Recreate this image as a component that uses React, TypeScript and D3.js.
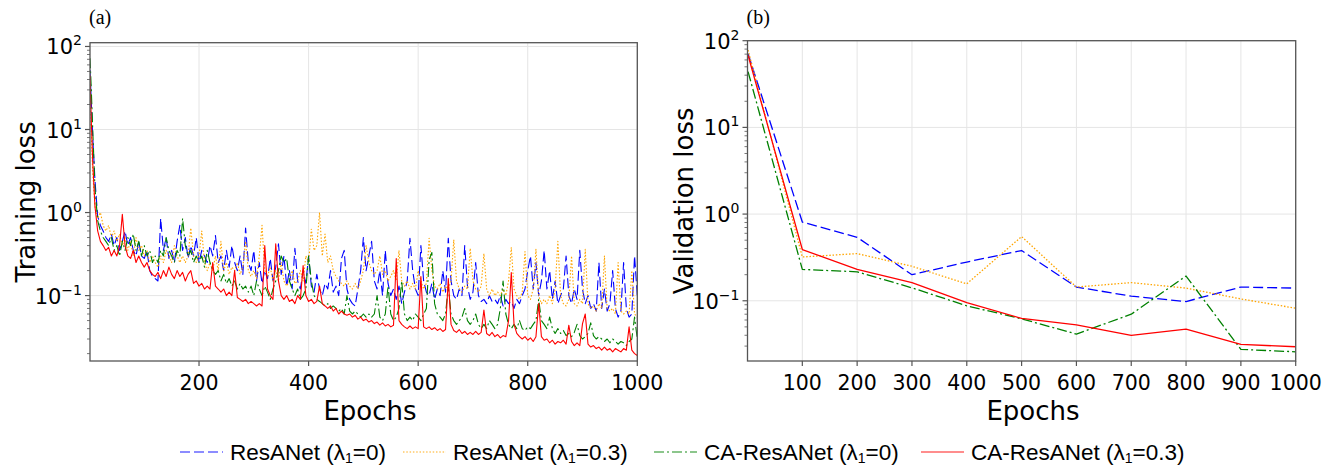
import React from "react";
import * as d3 from "d3";

// training curves: a few early epochs, then one reading every 5 epochs
const trainEpochs = [1, 3, 6, 10, 15, ...d3.range(20, 1001, 5)];

const resTrain0 = [
  52, 25, 8, 2.5, 0.9,
  0.7, 0.6, 0.5, 0.45, 0.55, 0.4, 0.5, 0.35, 0.45, 0.6, 0.4, 0.5, 0.35, 0.3, 0.45, 0.3, 0.28, 0.35, 0.2, 0.17,
  0.16, 0.15, 0.85, 0.35, 0.5, 0.28, 0.35, 0.25, 0.45, 0.7, 0.35, 0.5, 0.28, 0.4, 0.3, 0.5, 0.25, 0.35, 0.3, 0.25,
  0.4, 0.3, 0.53, 0.25, 0.3, 0.2, 0.35, 0.22, 0.4, 0.25, 0.2, 0.3, 0.18, 0.65, 0.25, 0.2, 0.35, 0.15, 0.25, 0.14,
  0.2, 0.16, 0.28, 0.15, 0.22, 0.42, 0.18, 0.3, 0.13, 0.2, 0.12, 0.37, 0.15, 0.12, 0.2, 0.14, 0.3, 0.13, 0.11, 0.18,
  0.12, 0.1, 0.14, 0.12, 0.2, 0.11, 0.13, 0.1, 0.28, 0.35, 0.12, 0.09, 0.08, 0.075, 0.12, 0.2, 0.5, 0.2, 0.3, 0.45,
  0.15, 0.12, 0.2, 0.1, 0.35, 0.14, 0.1, 0.12, 0.09, 0.13, 0.08, 0.11, 0.15, 0.49, 0.2, 0.12, 0.1, 0.4, 0.15, 0.11,
  0.1, 0.14, 0.09, 0.12, 0.1, 0.2, 0.11, 0.49, 0.15, 0.1, 0.09, 0.12, 0.1, 0.4, 0.13, 0.09, 0.11, 0.25, 0.1, 0.085,
  0.09, 0.08, 0.1, 0.085, 0.09, 0.08, 0.1, 0.075, 0.09, 0.08, 0.085, 0.07, 0.09, 0.08, 0.1, 0.12, 0.2, 0.3, 0.12, 0.25,
  0.1, 0.15, 0.35, 0.12, 0.2, 0.09, 0.15, 0.08, 0.1, 0.12, 0.3, 0.1, 0.08, 0.12, 0.09, 0.35, 0.12, 0.08, 0.1, 0.07,
  0.08, 0.065, 0.25, 0.07, 0.12, 0.065, 0.08, 0.2, 0.07, 0.055, 0.065, 0.25, 0.07, 0.055, 0.06, 0.3, 0.1,
];

const resTrain03 = [
  35, 10, 3, 1.2, 0.85,
  1.0, 0.7, 0.6, 0.7, 0.5, 0.6, 0.45, 0.55, 0.4, 0.5, 0.35, 0.45, 0.3, 0.5, 0.35, 0.4, 0.3, 0.35, 0.25, 0.3,
  0.25, 0.22, 0.3, 0.25, 0.35, 0.3, 0.25, 0.4, 0.3, 0.25, 0.3, 0.25, 0.3, 0.65, 0.3, 0.25, 0.3, 0.6, 0.25, 0.2,
  0.25, 0.2, 0.3, 0.2, 0.45, 0.2, 0.25, 0.18, 0.22, 0.2, 0.25, 0.18, 0.22, 0.45, 0.2, 0.17, 0.2, 0.16, 0.3, 0.7,
  0.2, 0.17, 0.22, 0.15, 0.2, 0.15, 0.25, 0.15, 0.13, 0.15, 0.2, 0.14, 0.15, 0.2, 0.15, 0.3, 0.25, 0.63, 0.35, 0.4,
  1.0, 0.3, 0.55, 0.25, 0.3, 0.2, 0.17, 0.15, 0.14, 0.13, 0.15, 0.13, 0.12, 0.14, 0.12, 0.15, 0.2, 0.4, 0.25, 0.2,
  0.18, 0.2, 0.3, 0.18, 0.2, 0.15, 0.17, 0.2, 0.15, 0.35, 0.15, 0.13, 0.15, 0.12, 0.14, 0.12, 0.2, 0.15, 0.12, 0.14,
  0.49, 0.2, 0.13, 0.12, 0.14, 0.11, 0.13, 0.12, 0.15, 0.47, 0.15, 0.12, 0.11, 0.13, 0.12, 0.37, 0.15, 0.12, 0.11, 0.13,
  0.32, 0.12, 0.1, 0.12, 0.1, 0.11, 0.1, 0.12, 0.1, 0.15, 0.38, 0.12, 0.1, 0.09, 0.11, 0.34, 0.1, 0.09, 0.12, 0.36,
  0.1, 0.08, 0.09, 0.08, 0.1, 0.08, 0.12, 0.45, 0.1, 0.08, 0.075, 0.09, 0.3, 0.08, 0.075, 0.09, 0.08, 0.36, 0.08, 0.07,
  0.075, 0.065, 0.08, 0.07, 0.3, 0.07, 0.065, 0.07, 0.06, 0.25, 0.065, 0.06, 0.065, 0.06, 0.2, 0.06, 0.055,
];

const caTrain0 = [
  72, 35, 10, 2, 0.8,
  0.6, 0.5, 0.45, 0.4, 0.5, 0.35, 0.4, 0.3, 0.45, 0.35, 0.5, 0.4, 0.55, 0.35, 0.45, 0.3, 0.4, 0.3, 0.35, 0.25,
  0.3, 0.25, 0.35, 0.3, 0.5, 0.35, 0.3, 0.25, 0.35, 0.3, 0.85, 0.4, 0.3, 0.35, 0.25, 0.3, 0.25, 0.3, 0.22, 0.35,
  0.25, 0.2, 0.18, 0.2, 0.15, 0.18, 0.14, 0.16, 0.13, 0.15, 0.12, 0.14, 0.12, 0.13, 0.11, 0.13, 0.1, 0.15, 0.12, 0.1,
  0.13, 0.11, 0.09, 0.12, 0.15, 0.2, 0.3, 0.25, 0.28, 0.15, 0.12, 0.1, 0.12, 0.09, 0.1, 0.12, 0.3, 0.15, 0.1, 0.09,
  0.085, 0.08, 0.075, 0.08, 0.07, 0.075, 0.07, 0.065, 0.07, 0.06, 0.1, 0.065, 0.06, 0.065, 0.06, 0.055, 0.06, 0.055, 0.06, 0.055,
  0.06, 0.1, 0.055, 0.05, 0.06, 0.13, 0.06, 0.05, 0.055, 0.07, 0.15, 0.06, 0.05, 0.055, 0.05, 0.06, 0.055, 0.05, 0.06, 0.07,
  0.27, 0.33, 0.08, 0.06, 0.055, 0.05, 0.06, 0.13, 0.06, 0.05, 0.045, 0.05, 0.055, 0.07, 0.05, 0.045, 0.05, 0.06, 0.045, 0.04,
  0.045, 0.04, 0.05, 0.045, 0.04, 0.045, 0.07, 0.15, 0.06, 0.045, 0.04, 0.045, 0.04, 0.05, 0.04, 0.038, 0.042, 0.04, 0.045, 0.05,
  0.09, 0.05, 0.045, 0.04, 0.055, 0.04, 0.035, 0.04, 0.035, 0.038, 0.033, 0.035, 0.032, 0.036, 0.045, 0.033, 0.03, 0.032, 0.035, 0.047,
  0.033, 0.03, 0.032, 0.03, 0.028, 0.03, 0.027, 0.03, 0.028, 0.026, 0.028, 0.027, 0.025, 0.028, 0.03, 0.055, 0.03,
];

const caTrain03 = [
  45, 15, 4, 1.2, 0.6,
  0.45, 0.4, 0.35, 0.38, 0.3, 0.35, 0.3, 0.4, 0.95, 0.4, 0.3, 0.28, 0.35, 0.25, 0.3, 0.25, 0.22, 0.25, 0.2, 0.18,
  0.17, 0.19, 0.16, 0.2, 0.17, 0.22, 0.18, 0.16, 0.2, 0.17, 0.19, 0.15, 0.18, 0.2, 0.14, 0.15, 0.13, 0.14, 0.12, 0.13,
  0.12, 0.25, 0.13, 0.12, 0.11, 0.12, 0.1, 0.11, 0.1, 0.2, 0.095, 0.09, 0.085, 0.09, 0.08, 0.085, 0.08, 0.075, 0.08, 0.075,
  0.4, 0.12, 0.1, 0.09, 0.42, 0.15, 0.1, 0.09, 0.1, 0.085, 0.09, 0.08, 0.1, 0.09, 0.23, 0.1, 0.085, 0.09, 0.08, 0.085,
  0.13, 0.08, 0.075, 0.07, 0.075, 0.065, 0.07, 0.06, 0.065, 0.06, 0.058, 0.06, 0.055, 0.058, 0.052, 0.055, 0.05, 0.052, 0.048, 0.05,
  0.046, 0.048, 0.044, 0.047, 0.043, 0.045, 0.042, 0.044, 0.28, 0.05, 0.045, 0.042, 0.04, 0.043, 0.04, 0.042, 0.04, 0.17, 0.042, 0.04,
  0.042, 0.039, 0.041, 0.038, 0.04, 0.037, 0.039, 0.16, 0.045, 0.038, 0.036, 0.039, 0.035, 0.037, 0.034, 0.036, 0.034, 0.037, 0.034, 0.036,
  0.067, 0.035, 0.033, 0.036, 0.032, 0.034, 0.031, 0.033, 0.032, 0.05, 0.19, 0.045, 0.035, 0.032, 0.03, 0.032, 0.029, 0.031, 0.028, 0.032,
  0.08, 0.032, 0.029, 0.03, 0.027, 0.029, 0.026, 0.028, 0.027, 0.029, 0.026, 0.044, 0.028, 0.025, 0.027, 0.025, 0.046, 0.06, 0.026, 0.024,
  0.025, 0.023, 0.024, 0.022, 0.024, 0.022, 0.023, 0.021, 0.023, 0.022, 0.021, 0.023, 0.022, 0.042, 0.022, 0.02, 0.019,
];

// validation every 100 epochs
const valEpochs = [1, 100, 200, 300, 400, 500, 600, 700, 800, 900, 1000];
const resVal0 = [71, 0.81, 0.54, 0.2, 0.28, 0.38, 0.144, 0.113, 0.098, 0.144, 0.14];
const resVal03 = [78, 0.32, 0.35, 0.25, 0.157, 0.55, 0.144, 0.162, 0.14, 0.105, 0.082];
const caVal0 = [44, 0.23, 0.216, 0.141, 0.0875, 0.062, 0.0413, 0.07, 0.193, 0.0275, 0.0258];
const caVal03 = [68, 0.39, 0.23, 0.162, 0.095, 0.0625, 0.0527, 0.0398, 0.047, 0.0314, 0.0295];

const seriesNames = ["ResANet", "ResANet", "CA-ResANet", "CA-ResANet"];
const lambdaValues = ["0", "0.3", "0", "0.3"];
const seriesColors = ["blue", "orange", "green", "red"];
const seriesDashes = ["10,4", "1.5,1.8", "10,3,2,3", null];

const leftTicks = [200, 400, 600, 800, 1000];
const rightTicks = [100, 200, 300, 400, 500, 600, 700, 800, 900, 1000];
const decades = [-1, 0, 1, 2];

const font = "DejaVu Sans";

function Panel({ id, tag, x, y, xTicks, ylabel, ylabelX, xlabelX, epochs, series, lw }) {
  const [x0, x1] = x.range();
  const [y0, y1] = y.range();
  const [lo, hi] = y.domain();
  const minor = [];
  for (let e = Math.floor(Math.log10(lo)); e <= Math.ceil(Math.log10(hi)); e++) {
    for (let m = 2; m <= 9; m++) {
      const v = m * Math.pow(10, e);
      if (v >= lo && v <= hi) minor.push(v);
    }
  }
  const line = d3.line().x((d) => x(d[0])).y((d) => y(d[1]));
  return (
    <g>
      <defs>
        <clipPath id={id}>
          <rect x={x0} y={y1} width={x1 - x0} height={y0 - y1} />
        </clipPath>
      </defs>
      {xTicks.map((t) => (
        <line key={"gx" + t} x1={x(t)} x2={x(t)} y1={y1} y2={y0} stroke="#e5e5e5" strokeWidth={1} />
      ))}
      {decades.map((e) => (
        <line key={"gy" + e} x1={x0} x2={x1} y1={y(Math.pow(10, e))} y2={y(Math.pow(10, e))} stroke="#e5e5e5" strokeWidth={1} />
      ))}
      <g clipPath={`url(#${id})`}>
        {series.map((vals, i) => (
          <path
            key={i}
            d={line(epochs.map((ep, j) => [ep, vals[j]]))}
            fill="none"
            stroke={seriesColors[i]}
            strokeWidth={lw}
            strokeDasharray={seriesDashes[i] || undefined}
            strokeLinejoin="round"
          />
        ))}
      </g>
      <rect x={x0} y={y1} width={x1 - x0} height={y0 - y1} fill="none" stroke="#555" strokeWidth={1.3} />
      {xTicks.map((t) => (
        <g key={"tx" + t}>
          <line x1={x(t)} x2={x(t)} y1={y0} y2={y0 + 5} stroke="#555" strokeWidth={1.2} />
          <text x={x(t)} y={390} textAnchor="middle" fontFamily={font} fontSize={20.5}>{t}</text>
        </g>
      ))}
      {minor.map((v) => (
        <line key={"mn" + v} x1={x0 - 3} x2={x0} y1={y(v)} y2={y(v)} stroke="#555" strokeWidth={0.8} />
      ))}
      {decades.map((e) => (
        <g key={"ty" + e}>
          <line x1={x0 - 5} x2={x0} y1={y(Math.pow(10, e))} y2={y(Math.pow(10, e))} stroke="#555" strokeWidth={1.2} />
          <text x={x0 - 8} y={y(Math.pow(10, e)) + 8} textAnchor="end" fontFamily={font} fontSize={21}>
            10
            <tspan fontSize={14} dy={-9}>{e < 0 ? "\u2212" + -e : e}</tspan>
          </text>
        </g>
      ))}
      <text x={xlabelX} y={420} textAnchor="middle" fontFamily={font} fontSize={26}>Epochs</text>
      <text
        transform={`translate(${ylabelX},${(y0 + y1) / 2}) rotate(-90)`}
        textAnchor="middle"
        fontFamily={font}
        fontSize={26}
      >
        {ylabel}
      </text>
      <text x={x0 - 1} y={24} fontFamily="Liberation Serif" fontSize={20}>{tag}</text>
    </g>
  );
}

function Legend() {
  const lineX = [180, 403, 654, 921];
  return (
    <g>
      {seriesNames.map((name, i) => (
        <g key={i}>
          <line
            x1={lineX[i]}
            x2={lineX[i] + 43}
            y1={452}
            y2={452}
            stroke={seriesColors[i]}
            strokeWidth={1.5}
            strokeOpacity={0.6}
            strokeDasharray={seriesDashes[i] || undefined}
          />
          <text x={lineX[i] + 50} y={460} fontFamily="Liberation Sans" fontSize={22.5}>
            {name} (λ<tspan fontSize={14} dy={3}>1</tspan>
            <tspan dy={-3}>={lambdaValues[i]})</tspan>
          </text>
        </g>
      ))}
    </g>
  );
}

export default function App() {
  const xl = d3.scaleLinear().domain([1, 1000]).range([90, 637.3]);
  const yl = d3.scaleLog().domain([0.0163, 111]).range([361, 42.7]);
  const xr = d3.scaleLinear().domain([0, 1000]).range([747.5, 1295.7]);
  const yr = d3.scaleLog().domain([0.0202, 100]).range([361, 40.7]);
  return (
    <svg width={1336} height={465} style={{ position: "absolute", left: 0, top: 0, background: "#fff" }}>
      <rect width={1336} height={465} fill="#fff" />
      <Panel
        id="clipA"
        tag="(a)"
        x={xl}
        y={yl}
        xTicks={leftTicks}
        ylabel="Training loss"
        ylabelX={35}
        xlabelX={370}
        epochs={trainEpochs}
        series={[resTrain0, resTrain03, caTrain0, caTrain03]}
        lw={1.1}
      />
      <Panel
        id="clipB"
        tag="(b)"
        x={xr}
        y={yr}
        xTicks={rightTicks}
        ylabel="Validation loss"
        ylabelX={693}
        xlabelX={1033}
        epochs={valEpochs}
        series={[resVal0, resVal03, caVal0, caVal03]}
        lw={1.3}
      />
      <Legend />
    </svg>
  );
}
